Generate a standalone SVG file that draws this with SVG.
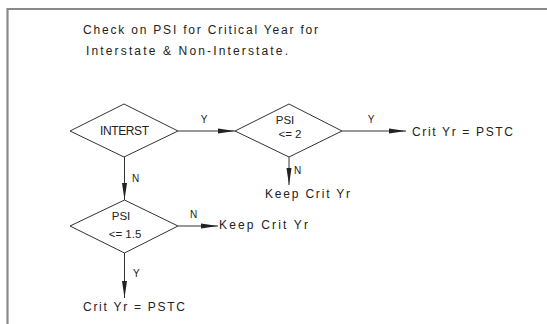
<svg xmlns="http://www.w3.org/2000/svg" width="547" height="324" viewBox="0 0 547 324">
<style>
  .frame{stroke:#8a8a8a;stroke-width:2.2;fill:none}
  .shape{fill:#fff;stroke:#333;stroke-width:1}
  .line{stroke:#333;stroke-width:1;fill:none}
  text{font-family:"Liberation Sans","DejaVu Sans",sans-serif;fill:#222}
  .t{font-size:12px}
  .c{font-size:11.5px;text-anchor:middle}
  .lbl{font-size:10px}
</style>
<defs>
  <marker id="arr" markerUnits="userSpaceOnUse" markerWidth="18" markerHeight="8" refX="17" refY="3" orient="auto">
    <path d="M0,0.5 L17,3 L0,5.5 Z" fill="#222"/>
  </marker>
</defs>
<rect width="547" height="324" fill="#fff"/>
<path class="frame" d="M7.5,324 V9 H547"/>
<g id="title">
  <text class="t" x="83" y="34" textLength="235" lengthAdjust="spacing">Check on PSI for Critical Year for</text>
  <text class="t" x="86" y="55" textLength="202" lengthAdjust="spacing">Interstate &amp; Non-Interstate.</text>
</g>
<g id="connectors">
  <line class="line" x1="178" y1="131" x2="235" y2="131" marker-end="url(#arr)"/>
  <line class="line" x1="342" y1="131" x2="406" y2="131" marker-end="url(#arr)"/>
  <line class="line" x1="289" y1="157" x2="289" y2="185" marker-end="url(#arr)"/>
  <line class="line" x1="124.5" y1="157" x2="124.5" y2="200" marker-end="url(#arr)"/>
  <line class="line" x1="178" y1="226" x2="218" y2="226" marker-end="url(#arr)"/>
  <line class="line" x1="124.5" y1="253" x2="124.5" y2="298" marker-end="url(#arr)"/>
  <text class="lbl" x="204" y="123" text-anchor="middle">Y</text>
  <text class="lbl" x="371" y="123" text-anchor="middle">Y</text>
  <text class="lbl" x="294" y="174">N</text>
  <text class="lbl" x="132" y="182">N</text>
  <text class="lbl" x="190" y="218">N</text>
  <text class="lbl" x="133" y="277">Y</text>
</g>
<g id="interst">
  <polygon class="shape" points="70,131 124,104 178,131 124,157"/>
  <text class="t" x="100" y="135" textLength="49" lengthAdjust="spacing">INTERST</text>
</g>
<g id="psi2">
  <polygon class="shape" points="235,131 289,104 342,131 289,157"/>
  <text class="c" x="285" y="124">PSI</text>
  <text class="c" x="290" y="138">&lt;= 2</text>
</g>
<g id="crit1">
  <text class="t" x="412" y="136" textLength="101" lengthAdjust="spacing">Crit Yr = PSTC</text>
</g>
<g id="keep1">
  <text class="t" x="265" y="198" textLength="85" lengthAdjust="spacing">Keep Crit Yr</text>
</g>
<g id="psi15">
  <polygon class="shape" points="70,226 124.5,200 178,226 124.5,253"/>
  <text class="c" x="121" y="220">PSI</text>
  <text class="c" x="125" y="238">&lt;= 1.5</text>
</g>
<g id="keep2">
  <text class="t" x="219" y="229" textLength="89" lengthAdjust="spacing">Keep Crit Yr</text>
</g>
<g id="crit2">
  <text class="t" x="83" y="311" textLength="102" lengthAdjust="spacing">Crit Yr = PSTC</text>
</g>
</svg>
